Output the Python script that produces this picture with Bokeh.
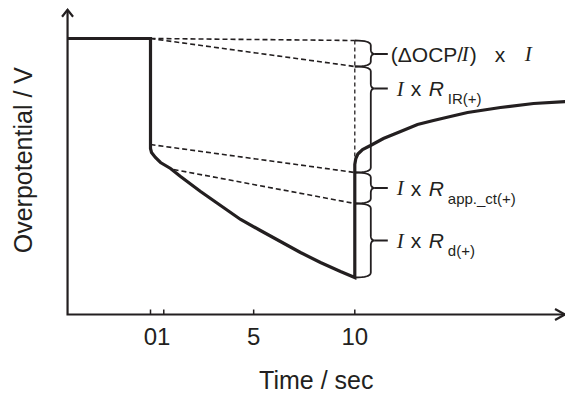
import math
from bokeh.plotting import figure
from bokeh.models import Range1d
from bokeh.core.properties import value
from bokeh.embed import file_html
from bokeh.resources import INLINE

# ---------------- data (time in s, overpotential in arbitrary units) ----------------
curve_time = [-4.06, 0.0, 0.0, 0.05, 0.24, 0.49, 0.98, 1.47, 2.45, 3.43, 4.41, 5.38,
              6.36, 7.34, 8.32, 9.30, 10.0, 10.0, 10.05, 10.15, 10.38, 10.77, 11.40,
              12.24, 13.07, 13.85, 14.68, 15.52, 17.13, 18.75, 20.31]
curve_eta = [27.6, 27.6, 16.6, 16.2, 15.7, 15.2, 14.6, 13.8, 12.3, 10.9, 9.5, 8.4,
             7.3, 6.2, 5.2, 4.3, 3.7, 15.0, 15.6, 16.05, 16.5, 16.9, 17.6,
             18.3, 19.0, 19.4, 19.8, 20.2, 20.7, 21.1, 21.3]

# extrapolation (dashed) lines
dash_t0 = [0.0, 0.0, 0.0, 1.13]
dash_eta0 = [27.6, 27.6, 17.0, 14.5]
dash_t1 = [10.0, 10.0, 10.0, 10.0]
dash_eta1 = [27.4, 24.8, 14.2, 11.1]
vdash_time = [10.0, 10.0]
vdash_eta = [27.4, 15.0]

# braces at t = 10 s
brace_time = 10.0
brace_top = [27.4, 24.8, 14.2, 11.1]
brace_bottom = [24.8, 14.2, 11.1, 3.7]
brace_tip = [26.05, 22.6, 12.65, 7.4]

# labels
label1_parts = ["(\u0394OCP/", "I", ")", "x", "I"]
label2_parts = ["I", "x", "R", "IR(+)"]
label3_parts = ["I", "x", "R", "app._ct(+)"]
label4_parts = ["I", "x", "R", "d(+)"]

tick_pos = [0.0, 0.65, 5.05, 10.0]
tick_labels = ["0", "1", "5", "10"]
x_title = "Time / sec"
y_title = "Overpotential / V"

# axis extents (data units)
axis_time_start, axis_time_end = -4.06, 20.29
axis_eta_start, axis_eta_end = 0.0, 30.47

# ---------------- layout ----------------
C = "#231f20"
PX = 20.43   # px per time unit
PY = 10.0    # px per eta unit
SANS = "Liberation Sans"
SERIF = "Liberation Serif"

p = figure(width=565, height=396, output_backend="svg", toolbar_location=None,
           x_axis_location=None, y_axis_location=None,
           x_range=Range1d(-150 / PX, 415 / PX), y_range=Range1d(-82 / PY, 314 / PY),
           min_border=0)
p.xgrid.visible = False
p.ygrid.visible = False
p.outline_line_color = None
p.background_fill_color = "white"
p.border_fill_color = "white"

# axes lines (L-shaped) with open arrow heads
p.line([axis_time_start, axis_time_start, axis_time_end],
       [axis_eta_end, axis_eta_start, axis_eta_start],
       line_color=C, line_width=2.2, line_join="miter")
p.multi_line(
    [[axis_time_start - 5.5 / PX, axis_time_start, axis_time_start + 5.5 / PX],
     [axis_time_end - 10 / PX, axis_time_end, axis_time_end - 10 / PX]],
    [[axis_eta_end - 7 / PY, axis_eta_end, axis_eta_end - 7 / PY],
     [axis_eta_start + 5.5 / PY, axis_eta_start, axis_eta_start - 5.5 / PY]],
    line_color=C, line_width=2.2, line_join="miter")

# ticks (pointing inwards) and tick labels
p.segment(x0=tick_pos, y0=[axis_eta_start] * len(tick_pos),
          x1=tick_pos, y1=[axis_eta_start + 5 / PY] * len(tick_pos),
          line_color=C, line_width=1.5)
p.text(x=tick_pos, y=[axis_eta_start] * len(tick_pos), text=tick_labels,
       y_offset=22, text_align="center", text_baseline="alphabetic",
       text_font=value(SANS), text_font_size="24px", text_color=C)

# axis titles
p.text(x=[(axis_time_start + axis_time_end) / 2], y=[axis_eta_start], text=[x_title],
       x_offset=0, y_offset=65, text_align="center", text_baseline="alphabetic",
       text_font=value(SANS), text_font_size="25px", text_color=C)
p.text(x=[axis_time_start], y=[(axis_eta_start + axis_eta_end) / 2], text=[y_title],
       x_offset=-45, y_offset=-2, angle=math.pi / 2, text_align="center",
       text_baseline="alphabetic",
       text_font=value(SANS), text_font_size="25px", text_color=C)

# dashed extrapolation lines
p.segment(x0=dash_t0, y0=dash_eta0, x1=dash_t1, y1=dash_eta1,
          line_color=C, line_width=1.6, line_dash="5 3")
p.line(vdash_time, vdash_eta, line_color=C, line_width=1.3, line_dash="4 3")

# main curve
p.line(curve_time, curve_eta, line_color=C, line_width=3.2, line_join="miter")


# braces
def quad(p0, c, p1, n=8):
    pts = []
    for i in range(1, n + 1):
        s = i / n
        x = (1 - s) ** 2 * p0[0] + 2 * (1 - s) * s * c[0] + s ** 2 * p1[0]
        y = (1 - s) ** 2 * p0[1] + 2 * (1 - s) * s * c[1] + s ** 2 * p1[1]
        pts.append((x, y))
    return pts


def brace(t0, top, bot, tip):
    yb = (top - bot) * PY
    ym = (top - tip) * PY
    xv = 16.0
    r = min(5.0, ym / 2.2, (yb - ym) / 2.2)
    pts = [(0.0, 0.0)]
    pts += quad((0.0, 0.0), (xv, 0.0), (xv, r))
    pts += [(xv, ym - r)]
    pts += quad((xv, ym - r), (xv, ym), (xv + 4, ym))
    pts += quad((xv + 4, ym), (xv, ym), (xv, ym + r))
    pts += [(xv, yb - r)]
    pts += quad((xv, yb - r), (xv, yb), (0.0, yb))
    xs = [t0 + px / PX for px, py in pts]
    ys = [top - py / PY for px, py in pts]
    return xs, ys, (t0 + (xv + 4) / PX, t0 + 33 / PX, tip)


bx, by = [], []
sx0, sx1, sy = [], [], []
for top, bot, tip in zip(brace_top, brace_bottom, brace_tip):
    xs, ys, stub = brace(brace_time, top, bot, tip)
    bx.append(xs)
    by.append(ys)
    sx0.append(stub[0]); sx1.append(stub[1]); sy.append(stub[2])
p.multi_line(bx, by, line_color=C, line_width=1.8)
p.segment(x0=sx0, y0=sy, x1=sx1, y1=sy, line_color=C, line_width=1.8)

# label pieces: (text, font kind, x offset px from brace time, y offset px from tip, label index)
styles = {
    "sans": dict(text_font=value(SANS), text_font_style="normal", text_font_size="21px"),
    "sans_i": dict(text_font=value(SANS), text_font_style="italic", text_font_size="21px"),
    "serif_i": dict(text_font=value(SERIF), text_font_style="italic", text_font_size="21px"),
    "sub": dict(text_font=value(SANS), text_font_style="normal", text_font_size="15px"),
}
pieces = []
l1 = label1_parts
pieces += [(l1[0], "sans", 36, 0, 0), (l1[1], "serif_i", 107, 0, 0), (l1[2], "sans", 115, 0, 0),
           (l1[3], "sans", 140, 0, 0), (l1[4], "serif_i", 170, 0, 0)]
for k, parts in enumerate([label2_parts, label3_parts, label4_parts]):
    i = k + 1
    pieces += [(parts[0], "serif_i", 42, 0, i), (parts[1], "sans", 56, 0, i),
               (parts[2], "sans_i", 74, 0, i), (parts[3], "sub", 93, 10, i)]

for txt, kind, dx, dy, i in pieces:
    p.text(x=[brace_time], y=[brace_tip[i]], text=[txt], x_offset=dx, y_offset=dy,
           text_align="left", text_baseline="alphabetic", text_color=C, **styles[kind])

open("out.html", "w").write(file_html(p, INLINE))
